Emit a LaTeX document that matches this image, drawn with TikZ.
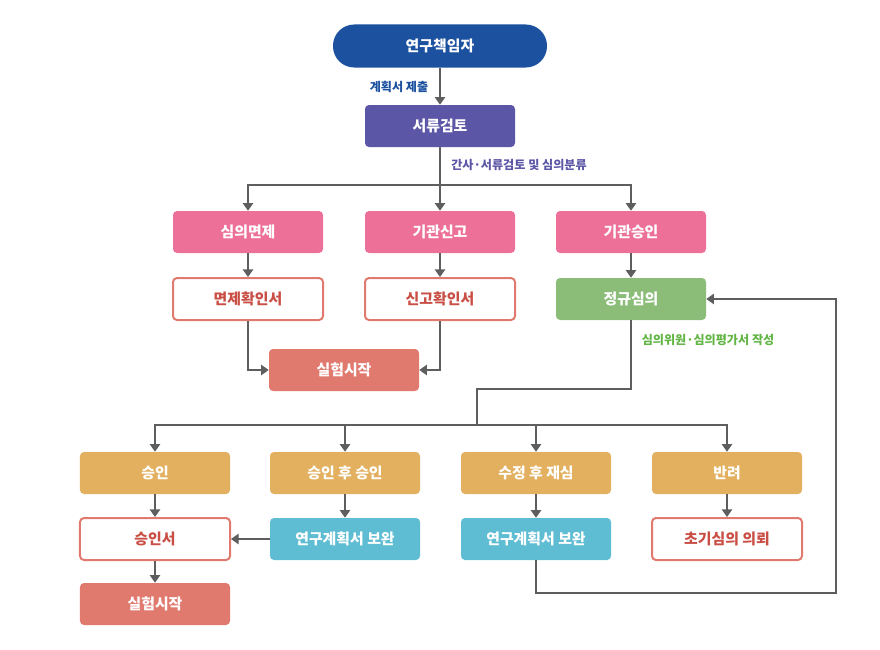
\documentclass[tikz,border=0pt]{standalone}
\usepackage{fontspec}
\setmainfont{Noto Sans CJK KR}
\usetikzlibrary{arrows.meta,positioning}

\definecolor{leadblue}{HTML}{1C51A0}
\definecolor{checkpurple}{HTML}{5C56A6}
\definecolor{deptpink}{HTML}{ED7099}
\definecolor{reviewgreen}{HTML}{8BBD79}
\definecolor{startred}{HTML}{E07A6F}
\definecolor{resultgold}{HTML}{E2B05E}
\definecolor{fixcyan}{HTML}{5FBDD3}
\definecolor{certred}{HTML}{C94F45}
\definecolor{notegreen}{HTML}{62B545}
\definecolor{linegray}{HTML}{5E5E5E}

\begin{document}
\begin{tikzpicture}[x=0.25mm, y=-0.25mm,
    box/.style={rectangle, rounded corners=1mm, minimum width=37.5mm, minimum height=10.5mm,
        inner sep=0pt, text=white, font=\bfseries\fontsize{10.6}{12}\selectfont},
    certbox/.style={box, fill=white, draw=startred, line width=0.5mm, text=certred},
    note/.style={font=\bfseries\fontsize{8.6}{10}\selectfont, inner sep=0pt},
    link/.style={draw=linegray, line width=0.3mm},
    flow/.style={link, -{Triangle[width=2.6mm, length=1.9mm]}}
]

    \useasboundingbox (0,0) rectangle (880,650);

    % top
    \node[box, fill=leadblue, minimum width=53.5mm, minimum height=10.75mm, rounded corners=5.3mm] (lead) at (440,46) {연구책임자};
    \node[box, fill=checkpurple] (docs) at (440,126) {서류검토};
    \draw[flow] (lead) -- (docs);
    \node[note, text=leadblue] (submit) at (399,87) {계획서 제출};

    % first split
    \node[box, fill=deptpink] (exempt) at (248,232) {심의면제};
    \node[box, fill=deptpink] (report) at (440,232) {기관신고};
    \node[box, fill=deptpink] (approval) at (631,232) {기관승인};
    \coordinate (split1) at (440,185);
    \draw[link] (docs) -- (split1);
    \draw[flow] (split1) -| (exempt);
    \draw[flow] (split1) -- (report);
    \draw[flow] (split1) -| (approval);
    \node[note, text=checkpurple] (classify) at (519,165) {간사·서류검토 및 심의분류};

    \node[certbox] (exemptcert) at (248,299) {면제확인서};
    \node[certbox] (reportcert) at (440,299) {신고확인서};
    \node[box, fill=reviewgreen] (regular) at (631,299) {정규심의};
    \draw[flow] (exempt) -- (exemptcert);
    \draw[flow] (report) -- (reportcert);
    \draw[flow] (approval) -- (regular);

    \node[box, fill=startred] (start1) at (344,370) {실험시작};
    \draw[flow] (exemptcert) |- (start1);
    \draw[flow] (reportcert) |- (start1);
    \node[note, text=notegreen] (members) at (708,340) {심의위원·심의평가서 작성};

    % second split
    \node[box, fill=resultgold] (ok) at (155,473) {승인};
    \node[box, fill=resultgold] (okafter) at (345,473) {승인 후 승인};
    \node[box, fill=resultgold] (recheck) at (536,473) {수정 후 재심};
    \node[box, fill=resultgold] (reject) at (727,473) {반려};
    \coordinate (bend1) at (477,389);
    \coordinate (split2) at (477,425);
    \draw[link] (regular) |- (bend1) -- (split2);
    \draw[flow] (split2) -| (ok);
    \draw[flow] (split2) -| (okafter);
    \draw[flow] (split2) -| (recheck);
    \draw[flow] (split2) -| (reject);

    \node[certbox] (okcert) at (155,539) {승인서};
    \node[box, fill=fixcyan] (fix1) at (345,539) {연구계획서 보완};
    \node[box, fill=fixcyan] (fix2) at (536,539) {연구계획서 보완};
    \node[certbox] (initial) at (727,539) {초기심의 의뢰};
    \draw[flow] (ok) -- (okcert);
    \draw[flow] (okafter) -- (fix1);
    \draw[flow] (recheck) -- (fix2);
    \draw[flow] (reject) -- (initial);
    \draw[flow] (fix1) -- (okcert);

    \node[box, fill=startred] (start2) at (155,604) {실험시작};
    \draw[flow] (okcert) -- (start2);

    % back to regular review
    \coordinate (loop1) at (836,593);
    \draw[flow] (fix2) |- (loop1) |- (regular);

\end{tikzpicture}
\end{document}
